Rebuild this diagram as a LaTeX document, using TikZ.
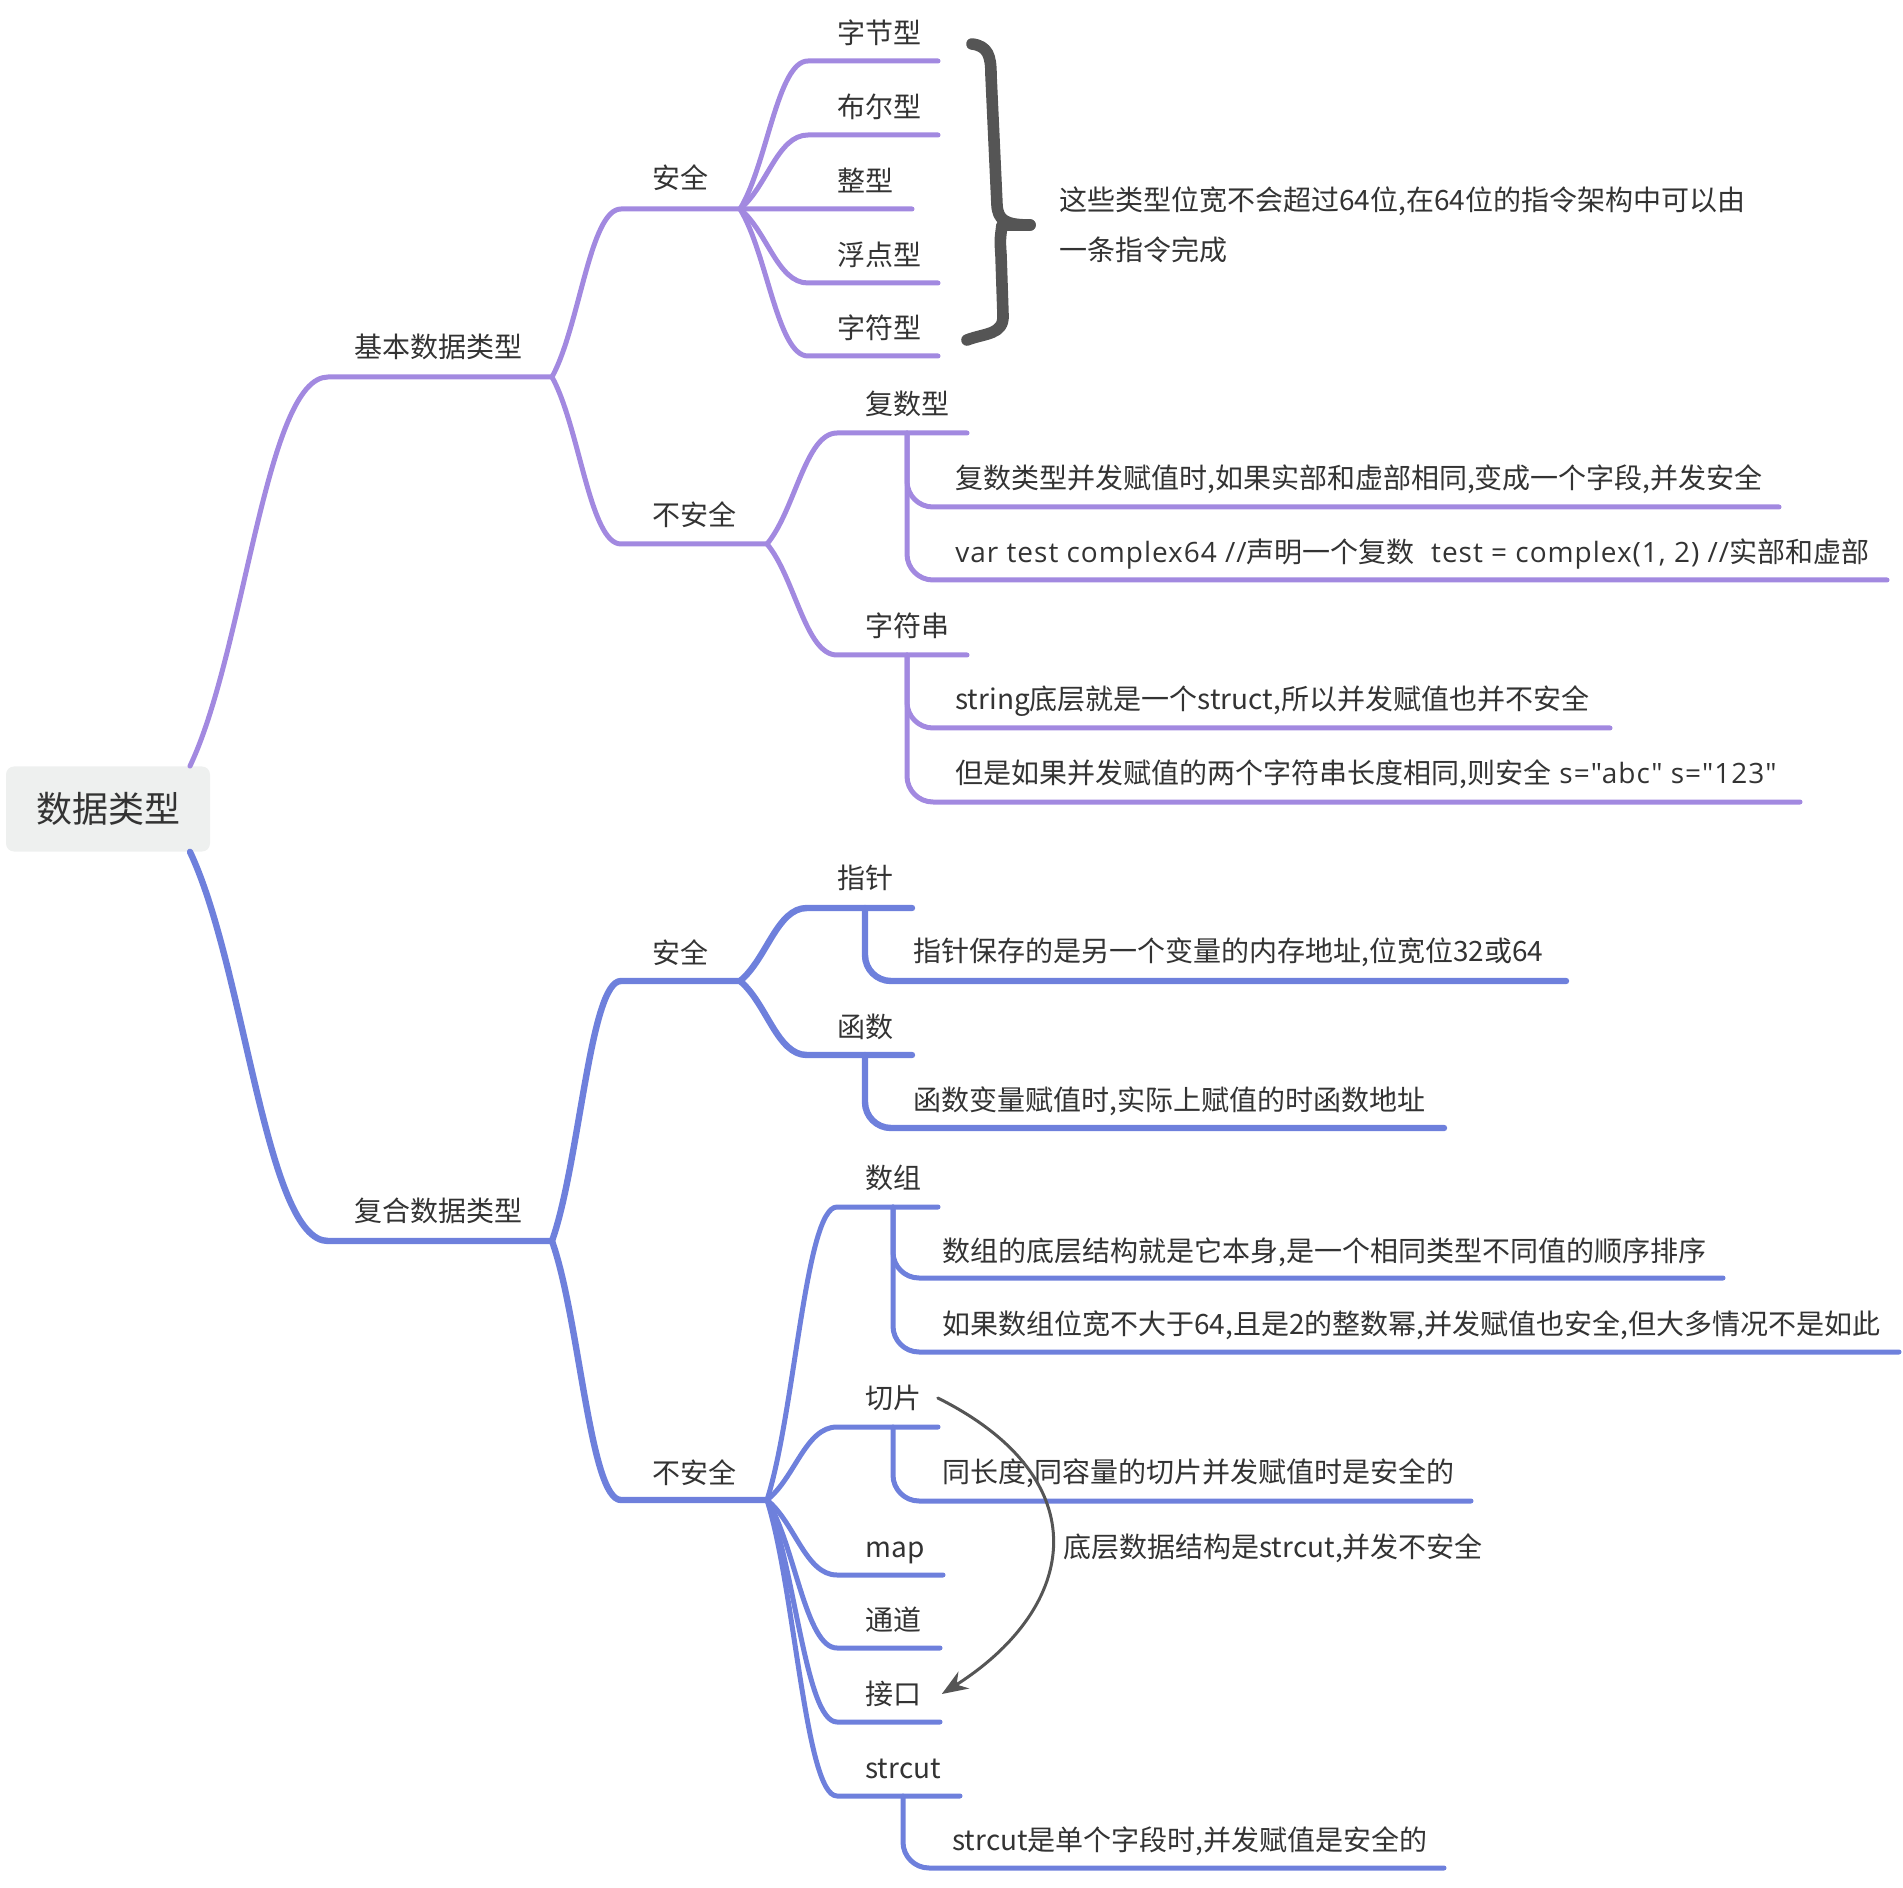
\documentclass[tikz,border=0pt]{standalone}
\usepackage{fontspec}
\setmainfont{Noto Sans CJK SC}[Ligatures=TeXOff]
\newfontfamily\latinfont{Open Sans}[Ligatures=TeXOff,LetterSpace=3.5]
\usepackage{tikz}
\usetikzlibrary{arrows.meta,calc,positioning}
\definecolor{gray238}{RGB}{238,240,239}
\definecolor{gray85}{RGB}{85,85,85}
\definecolor{ink}{RGB}{51,51,51}
\definecolor{lilac}{RGB}{162,137,224}
\definecolor{slate}{RGB}{110,128,220}

\begin{document}
\begin{tikzpicture}
  [x=0.5pt,y=-0.5pt,line cap=round,line join=round,
    every node/.style={anchor=west,inner sep=0pt,text=ink,
      font=\fontsize{14pt}{17pt}\selectfont,text height=11.6pt,text depth=1pt},
    rootbox/.style={anchor=center,fill=gray238,rounded corners=4pt,
      minimum width=102pt,minimum height=42.5pt,
      font=\fontsize{18pt}{21pt}\selectfont,text height=15pt,text depth=1.3pt},
    purp/.style={draw=lilac,line width=2.5pt},
    blu/.style={draw=slate,line width=2.5pt},
    blubold/.style={draw=slate,line width=3.2pt},
    sub/.style={rounded corners=13pt},
    branch/.style={to path={let \p1=(\tikztostart),\p2=(\tikztotarget) in
        .. controls (0.6*\x1+0.4*\x2,0.7*\y1+0.3*\y2) and (0.45*\x1+0.55*\x2,\y2) .. (\tikztotarget)}},
    brace/.style={draw=gray85,line width=5.8pt},
    relarrow/.style={draw=gray85,line width=1.5pt,-{Stealth[length=13pt,width=10pt]}},
  ]
  \useasboundingbox (0,0) rectangle (1903,1888);

  % root
  \node[rootbox] (root) at (108,809) {数据类型};
  \coordinate (rootup) at ([xshift=41pt]root.north);
  \coordinate (rootdn) at ([xshift=41pt]root.south);

  % ---- basic types
  \coordinate (jbS) at (328,377); \coordinate (jbE) at (552,377);
  \draw[purp] (rootup) to[branch] (jbS) -- (jbE);
  \node (jiben) at (354,347) {基本数据类型};

  \coordinate (aq1S) at (621,209); \coordinate (aq1E) at (740,209);
  \draw[purp] (jbE) to[branch] (aq1S) -- (aq1E);
  \node (anquan1) at (652,178) {安全};

  \foreach \lab/\yy/\ee/\nm in {字节型/61/938/zj,布尔型/135/938/be,整型/209/912/zx,浮点型/283/938/fd,字符型/356/938/zf} {
    \coordinate (\nm S) at (808,\yy);
    \coordinate (\nm E) at (\ee,\yy);
    \draw[purp] (aq1E) to[branch] (\nm S) -- (\nm E);
    \node (\nm) at (837,\yy-28) {\lab};
  }

  % brace + note
  \draw[brace] (972,44) .. controls (988,46) and (991,56) .. (991,75)
    -- (997,205) .. controls (998,220) and (1005,225) .. (1030,225);
  \draw[brace] (1030,225) -- (1002,225) .. controls (1000,240) .. (1001,255)
    -- (1003,315) .. controls (1004,335) and (985,333) .. (967,340);
  \node (note1) at (1059,200) {这些类型位宽不会超过64位,在64位的指令架构中可以由};
  \node (note2) at (1059,250) {一条指令完成};

  \coordinate (baq1S) at (621,544); \coordinate (baq1E) at (767,544);
  \draw[purp] (jbE) to[branch] (baq1S) -- (baq1E);
  \node (buanquan1) at (652,515) {不安全};

  \coordinate (fsS) at (837,433); \coordinate (fsE) at (967,433);
  \draw[purp] (baq1E) to[branch] (fsS) -- (fsE);
  \node (fushu) at (865,404) {复数型};
  \coordinate (fsV) at (907,433);
  \coordinate (fs1) at (1779,507); \coordinate (fs2) at (1887,580);
  \draw[purp,sub] (fsV) |- (fs1);
  \draw[purp,sub] (fsV) |- (fs2);
  \node (fsleaf1) at (955,478) {复数类型并发赋值时,如果实部和虚部相同,变成一个字段,并发安全};
  \node (fsleaf2) at (955,552) {{\latinfont var test complex64 //}声明一个复数{\latinfont\ \ test = complex(1, 2) //}实部和虚部};

  \coordinate (zfcS) at (837,655); \coordinate (zfcE) at (967,655);
  \draw[purp] (baq1E) to[branch] (zfcS) -- (zfcE);
  \node (zifuchuan) at (865,626) {字符串};
  \coordinate (zfcV) at (907,655);
  \coordinate (zfc1) at (1610,728); \coordinate (zfc2) at (1800,802);
  \draw[purp,sub] (zfcV) |- (zfc1);
  \draw[purp,sub] (zfcV) |- (zfc2);
  \node (zfcleaf1) at (955,699) {string底层就是一个struct,所以并发赋值也并不安全};
  \node (zfcleaf2) at (955,773) {但是如果并发赋值的两个字符串长度相同,则安全{\latinfont\ s="abc" s="123"}};

  % ---- composite types
  \coordinate (fhS) at (328,1241); \coordinate (fhE) at (552,1241);
  \draw[blubold] (rootdn) to[branch] (fhS) -- (fhE);
  \node (fuhe) at (354,1211) {复合数据类型};

  \coordinate (aq2S) at (621,981); \coordinate (aq2E) at (740,981);
  \draw[blubold] (fhE) to[branch] (aq2S) -- (aq2E);
  \node (anquan2) at (652,953) {安全};

  \coordinate (zzS) at (807,908); \coordinate (zzE) at (912,908);
  \draw[blubold] (aq2E) to[branch] (zzS) -- (zzE);
  \node (zhizhen) at (837,878) {指针};
  \coordinate (zzV) at (865,908); \coordinate (zz1) at (1566,981);
  \draw[blubold,sub] (zzV) |- (zz1);
  \node (zzleaf) at (913,951) {指针保存的是另一个变量的内存地址,位宽位32或64};

  \coordinate (hsS) at (807,1055); \coordinate (hsE) at (912,1055);
  \draw[blubold] (aq2E) to[branch] (hsS) -- (hsE);
  \node (hanshu) at (837,1027) {函数};
  \coordinate (hsV) at (865,1055); \coordinate (hs1) at (1444,1128);
  \draw[blubold,sub] (hsV) |- (hs1);
  \node (hsleaf) at (913,1100) {函数变量赋值时,实际上赋值的时函数地址};

  \coordinate (baq2S) at (621,1500); \coordinate (baq2E) at (767,1500);
  \draw[blubold] (fhE) to[branch] (baq2S) -- (baq2E);
  \node (buanquan2) at (652,1473) {不安全};

  \coordinate (szS) at (837,1207); \coordinate (szE) at (938,1207);
  \draw[blu] (baq2E) to[branch] (szS) -- (szE);
  \node (shuzu) at (865,1178) {数组};
  \coordinate (szV) at (893,1207);
  \coordinate (sz1) at (1723,1278); \coordinate (sz2) at (1899,1352);
  \draw[blu,sub] (szV) |- (sz1);
  \draw[blu,sub] (szV) |- (sz2);
  \node (szleaf1) at (942,1251) {数组的底层结构就是它本身,是一个相同类型不同值的顺序排序};
  \node (szleaf2) at (942,1324) {如果数组位宽不大于64,且是2的整数幂,并发赋值也安全,但大多情况不是如此};

  \coordinate (qpS) at (837,1427); \coordinate (qpE) at (938,1427);
  \draw[blu] (baq2E) to[branch] (qpS) -- (qpE);
  \node (qp) at (865,1398) {切片};
  \coordinate (qpV) at (893,1427); \coordinate (qp1) at (1471,1501);
  \draw[blu,sub] (qpV) |- (qp1);
  \node (qpleaf) at (942,1472) {同长度,同容量的切片并发赋值时是安全的};

  \foreach \lab/\yy/\ee/\nm in {map/1575/943/mp,通道/1648/940/td,接口/1722/940/jk,strcut/1796/960/sc} {
    \coordinate (\nm S) at (837,\yy);
    \coordinate (\nm E) at (\ee,\yy);
    \draw[blu] (baq2E) to[branch] (\nm S) -- (\nm E);
    \node (\nm) at (865,\yy-28) {\lab};
  }
  \coordinate (scV) at (903,1796); \coordinate (sc1) at (1444,1868);
  \draw[blu,sub] (scV) |- (sc1);
  \node (scleaf) at (952,1840) {strcut是单个字段时,并发赋值是安全的};

  % relation
  \draw[relarrow] ([xshift=8pt]qp.east) .. controls +(162,81) and +(137,-87) .. ([xshift=10pt]jk.east);
  \node (rel) at (1063,1547) {底层数据结构是strcut,并发不安全};
\end{tikzpicture}
\end{document}
